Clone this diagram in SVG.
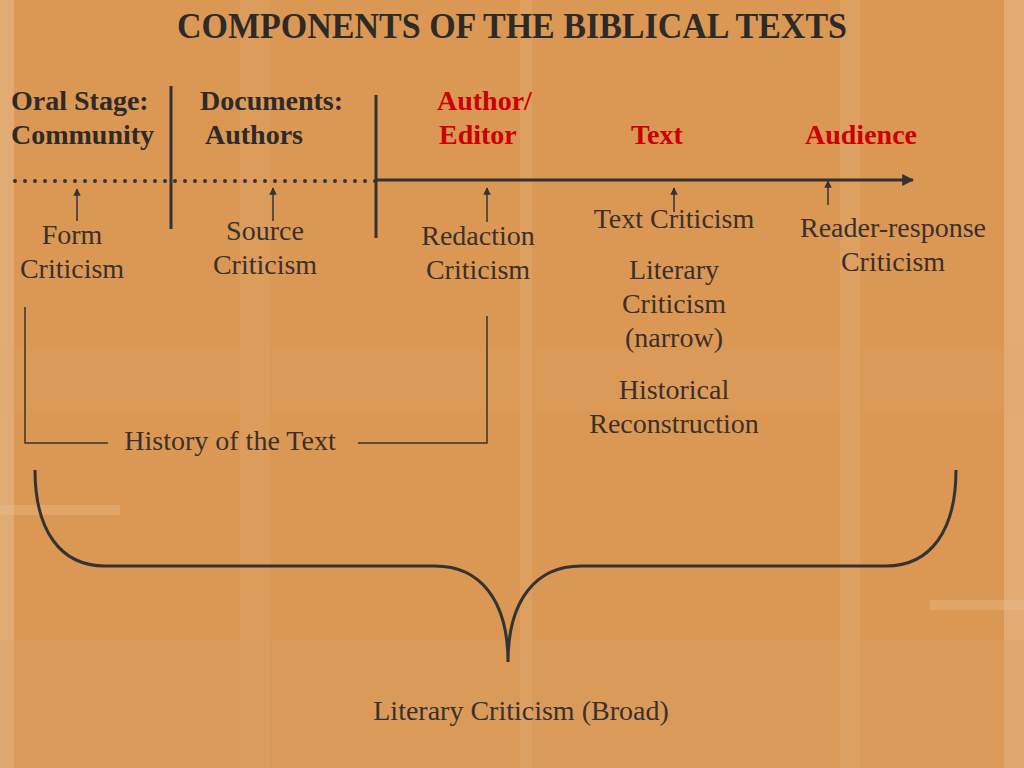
<svg xmlns="http://www.w3.org/2000/svg" width="1024" height="768" viewBox="0 0 1024 768">
<style>
.hd{font-family:"Liberation Serif",serif;font-weight:bold;font-size:28px;fill:#2e2a28}
.red{fill:#cc0000}
.lb{font-family:"Liberation Serif",serif;font-size:28px;fill:#3a302c;text-anchor:middle}
.thick{stroke:#333;stroke-width:3;fill:none}
.thin{stroke:#3a302c;stroke-width:1.5;fill:none}
.ar{stroke:#333;stroke-width:1.5;fill:none;marker-end:url(#sm)}
</style>
<defs>
<marker id="sm" viewBox="0 0 10 10" refX="9" refY="5" markerWidth="5" markerHeight="5" orient="auto" markerUnits="strokeWidth"><path d="M0,0 L10,5 L0,10 z" fill="#333"/></marker>
<marker id="big" viewBox="0 0 10 10" refX="9" refY="5" markerWidth="4" markerHeight="4" orient="auto" markerUnits="strokeWidth"><path d="M0,0 L10,5 L0,10 z" fill="#333"/></marker>
</defs>
<g id="background">
<rect width="1024" height="768" fill="#d8944f"/>
<rect x="0" y="0" width="1024" height="768" fill="#e6a86a" opacity="0.2"/>
<rect x="0" y="0" width="14" height="768" fill="#e8c49a" opacity="0.45"/>
<rect x="1004" y="0" width="20" height="768" fill="#e8c49a" opacity="0.45"/>
<rect x="240" y="0" width="30" height="768" fill="#e2b07c" opacity="0.2"/>
<rect x="520" y="0" width="12" height="768" fill="#e6b888" opacity="0.25"/>
<rect x="840" y="0" width="20" height="768" fill="#e6b888" opacity="0.25"/>
<rect x="0" y="505" width="120" height="10" fill="#eac49a" opacity="0.3"/>
<rect x="930" y="600" width="94" height="10" fill="#eac49a" opacity="0.3"/>
<rect x="0" y="350" width="1024" height="60" fill="#e4aa70" opacity="0.15"/>
<rect x="0" y="640" width="1024" height="128" fill="#dca06a" opacity="0.25"/>
</g>
<g id="title"><text x="512" y="38" text-anchor="middle" font-family="Liberation Serif,serif" font-weight="bold" font-size="36" fill="#2e2a28" textLength="670" lengthAdjust="spacingAndGlyphs">COMPONENTS OF THE BIBLICAL TEXTS</text></g>
<g id="oral-stage"><text class="hd" x="11" y="110">Oral Stage:</text><text class="hd" x="11" y="144">Community</text></g>
<g id="documents"><text class="hd" x="200" y="110">Documents:</text><text class="hd" x="205" y="144">Authors</text></g>
<g id="author-editor"><text class="hd red" x="437" y="110">Author/</text><text class="hd red" x="439" y="144">Editor</text></g>
<g id="text-stage"><text class="hd red" x="631" y="144">Text</text></g>
<g id="audience"><text class="hd red" x="805" y="144">Audience</text></g>
<g id="connectors">
<line class="thick" x1="171" y1="86" x2="171" y2="229"/>
<line class="thick" x1="376" y1="95" x2="376" y2="238"/>
<line x1="15" y1="181" x2="376" y2="181" stroke="#333" stroke-width="4" stroke-linecap="round" stroke-dasharray="0 10"/>
<line x1="376" y1="180" x2="913" y2="180" stroke="#333" stroke-width="3" marker-end="url(#big)"/>
<line class="ar" x1="77" y1="221" x2="77" y2="189"/>
<line class="ar" x1="273" y1="221" x2="273" y2="188"/>
<line class="ar" x1="487" y1="222" x2="487" y2="188"/>
<line class="ar" x1="674" y1="212" x2="674" y2="188"/>
<line class="ar" x1="828" y1="205" x2="828" y2="181"/>
<path class="thin" d="M25,307 L25,443 L108,443"/>
<path class="thin" d="M358,443 L487,443 L487,316"/>
<path class="thick" d="M35,470 C35,530 60,566 105,566 L435,566 C480,566 508,600 508,662 C508,600 536,566 581,566 L886,566 C931,566 956,530 956,470"/>
</g>
<g id="form-criticism"><text class="lb" x="72" y="244">Form</text><text class="lb" x="72" y="278">Criticism</text></g>
<g id="source-criticism"><text class="lb" x="265" y="240">Source</text><text class="lb" x="265" y="274">Criticism</text></g>
<g id="redaction-criticism"><text class="lb" x="478" y="245">Redaction</text><text class="lb" x="478" y="279">Criticism</text></g>
<g id="text-criticism"><text class="lb" x="674" y="228">Text Criticism</text></g>
<g id="literary-narrow"><text class="lb" x="674" y="279">Literary</text><text class="lb" x="674" y="313">Criticism</text><text class="lb" x="674" y="347">(narrow)</text></g>
<g id="historical"><text class="lb" x="674" y="399">Historical</text><text class="lb" x="674" y="433">Reconstruction</text></g>
<g id="reader-response"><text class="lb" x="893" y="237">Reader-response</text><text class="lb" x="893" y="271">Criticism</text></g>
<g id="history-of-text"><text class="lb" x="230" y="450">History of the Text</text></g>
<g id="literary-broad"><text class="lb" x="521" y="720">Literary Criticism (Broad)</text></g>
</svg>
